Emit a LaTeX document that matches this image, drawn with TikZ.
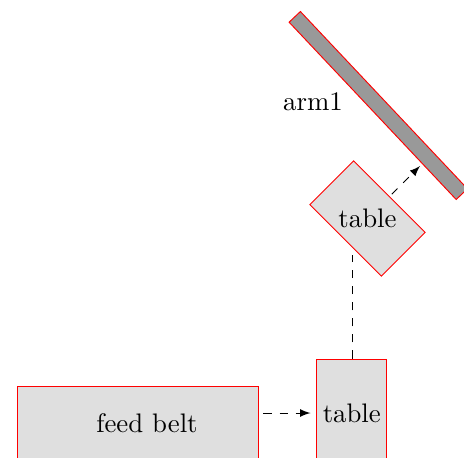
\documentclass[tikz,border=0pt]{standalone}
\usepackage{graphicx}
\begin{document}
\begin{tikzpicture}[x=0.3731pt,y=-0.3731pt,
  box/.style={draw=red,fill=gray!25,inner sep=0pt,line width=0.35pt},
  armbox/.style={draw=red,fill=gray!80,inner sep=0pt,line width=0.35pt},
  link/.style={dashed,line width=0.35pt}]
\useasboundingbox (0,0) rectangle (464,457);
\clip (0,0) rectangle (464,457);
% arm
\node[armbox,minimum width=90.9pt,minimum height=5.8pt,rotate=-46.7] (arm) at (378.3,105.5) {};
\node (armlabel) at (313,102) {arm1};
% rotated table
\node[box,minimum width=37.7pt,minimum height=23.1pt,rotate=-45] (t1) at (367.5,218.5) {\rotatebox{45}{table}};
% bottom table
\node[box,minimum width=26.1pt,minimum height=40.3pt] (t2) at (351,413) {\hspace*{0.6pt}table};
% feed belt
\node[box,minimum width=89.9pt,minimum height=27.6pt] (belt) at (137.5,423) {\hspace*{7.1pt}feed belt};
% connectors
\coordinate (armhit) at (420,166);
\coordinate (dtop) at (352.5,255);
\draw[link,-latex,shorten <=1.1pt] (t1.north) -- (armhit);
\draw[link] (dtop |- t2.north) -- (dtop);
\draw[link,-latex,shorten <=1.87pt,shorten >=1.87pt] (belt.east |- t2.west) -- (t2.west);
\end{tikzpicture}
\end{document}
